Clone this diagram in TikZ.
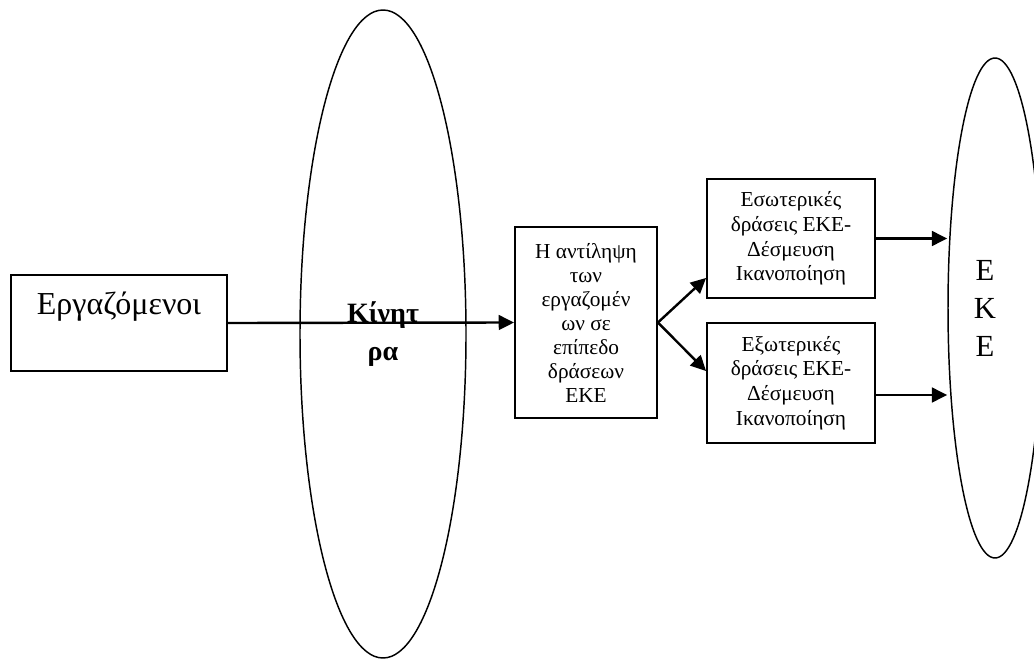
\documentclass[tikz,border=0pt]{standalone}
\usepackage{fontspec}
\setmainfont{Liberation Serif}
\usetikzlibrary{arrows.meta, positioning, calc, shapes.geometric}
\tikzset{
  box/.style={draw, line width=1.4pt, inner sep=0pt, align=center, font=\fontsize{16}{18.5}\selectfont},
  oval/.style={ellipse, draw, line width=1.1pt, inner sep=0pt, align=center},
  arr/.style={-{Triangle[length=11.5pt, width=11pt]}, line width=1.8pt}
}

\begin{document}
\begin{tikzpicture}[x=0.75pt, y=-0.75pt]
		\useasboundingbox (0,0) rectangle (1034,659);
		% the two ovals
		\node[oval, minimum width=124.5pt, minimum height=486pt, font=\bfseries\fontsize{21}{28.5}\selectfont] (kin) at (383,334) {Κίνητ\\ρα};
		\node[oval, minimum width=70.5pt, minimum height=375pt,
		  label={[align=center, xshift=-7.5pt, font=\fontsize{23}{28.5}\selectfont]center:Ε\\Κ\\Ε}] (eke) at (995,308) {};
		% boxes
		\node[box, minimum width=162pt, minimum height=72pt,
		  label={[yshift=12pt, font=\fontsize{24}{26}\selectfont]center:Εργαζόμενοι}] (erg) at (119,323) {};
		\node[box, minimum width=106.5pt, minimum height=143.25pt, font=\fontsize{16}{18}\selectfont] (ant) at (586,322.5) {Η αντίληψη\\των\\εργαζομέν\\ων σε\\επίπεδο\\δράσεων\\ΕΚΕ};
		\node[box, minimum width=126pt, minimum height=89.25pt] (esw) at (791,238.5) {Εσωτερικές\\δράσεις ΕΚΕ-\\Δέσμευση\\Ικανοποίηση};
		\node[box, minimum width=126pt, minimum height=90pt] (exw) at (791,383) {Εξωτερικές\\δράσεις ΕΚΕ-\\Δέσμευση\\Ικανοποίηση};
		% arrows
		\coordinate (up) at ($(esw.south west)+(0,-21)$);
		\coordinate (dn) at ($(exw.north west)+(0,49)$);
		\coordinate (exwout) at ($(exw.east)+(0,12)$);
		\draw[arr] (erg.east) -- (ant.west);
		\draw[arr] (ant.east) -- (up);
		\draw[arr] (ant.east) -- (dn);
		\draw[arr] (esw.east) -- (esw.east -| eke.west);
		\draw[arr] (exwout) -- (exwout -| eke.west);
	\end{tikzpicture}
\end{document}
